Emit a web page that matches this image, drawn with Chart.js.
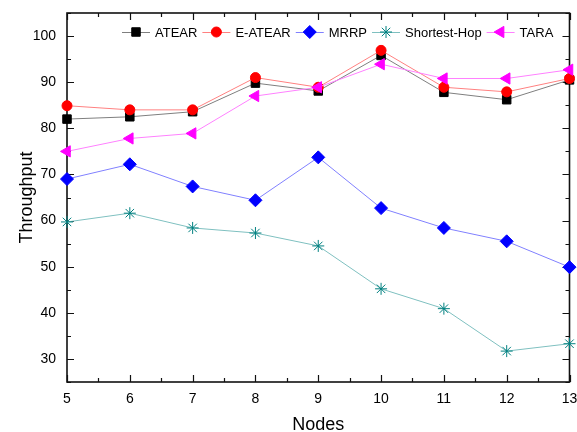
<!DOCTYPE html>
<html>
<head>
<meta charset="utf-8">
<script src="https://cdn.jsdelivr.net/npm/chart.js"></script>
<style>
  html, body { margin: 0; padding: 0; background: #fff; }
  canvas { display: block; }
</style>
</head>
<body>
<canvas id="chart" width="577" height="432"></canvas>
<script>
// values
const nodes = [5, 6, 7, 8, 9, 10, 11, 12, 13];
const atear = [82.0, 82.5, 83.6, 89.8, 88.1, 95.8, 87.8, 86.2, 90.5];
const eAtear = [84.9, 84.0, 84.0, 91.0, 88.9, 96.9, 88.9, 87.9, 90.8];
const mrrp = [69.0, 72.2, 67.4, 64.4, 73.7, 62.7, 58.4, 55.5, 49.9];
const shortestHop = [59.7, 61.6, 58.4, 57.3, 54.5, 45.2, 40.9, 31.7, 33.3];
const tara = [75.0, 77.8, 78.9, 87.0, 88.9, 93.9, 90.8, 90.8, 92.7];
const xTicks = [5, 6, 7, 8, 9, 10, 11, 12, 13];
const yTicks = [30, 40, 50, 60, 70, 80, 90, 100];

const FONT = "'Liberation Sans', Arial, sans-serif";
Chart.defaults.font.family = FONT;
Chart.defaults.color = '#000';

const toPts = arr => nodes.map((n, i) => ({ x: n, y: arr[i] }));

const series = [
    { label: 'ATEAR', data: atear, line: '#7f7f7f', mark: '#000000', style: 'rect', r: 6, rot: 0 },
    { label: 'E-ATEAR', data: eAtear, line: '#ff8080', mark: '#ff0000', style: 'circle', r: 5, rot: 0 },
    { label: 'MRRP', data: mrrp, line: '#8080ff', mark: '#0000ff', style: 'rectRot', r: 6.5, rot: 0 },
    { label: 'Shortest-Hop', data: shortestHop, line: '#7fc0c0', mark: '#008080', style: 'star', r: 6, rot: 0 },
    { label: 'TARA', data: tara, line: '#ff80ff', mark: '#ff00ff', style: 'triangle', r: 6.5, rot: -90 }
];

// box with inward ticks on all four sides
const framePlugin = {
    id: 'frame',
    beforeDatasetsDraw(chart) {
        const { ctx, chartArea: a, scales: { x, y } } = chart;
        ctx.save();
        ctx.strokeStyle = '#111';
        ctx.lineWidth = 1.6;
        ctx.strokeRect(a.left, a.top, a.right - a.left, a.bottom - a.top);
        ctx.lineWidth = 1.2;
        ctx.beginPath();
        for (let v = x.min; v <= x.max + 1e-6; v += 0.5) {
            const px = Math.round(x.getPixelForValue(v)) + 0.5;
            const len = Number.isInteger(v) ? 7 : 4;
            ctx.moveTo(px, a.bottom); ctx.lineTo(px, a.bottom - len);
            ctx.moveTo(px, a.top); ctx.lineTo(px, a.top + len);
        }
        for (let v = 25; v <= y.max + 1e-6; v += 5) {
            const py = Math.round(y.getPixelForValue(v)) + 0.5;
            const len = v % 10 === 0 ? 7 : 4;
            ctx.moveTo(a.left, py); ctx.lineTo(a.left + len, py);
            ctx.moveTo(a.right, py); ctx.lineTo(a.right - len, py);
        }
        ctx.stroke();
        ctx.restore();
    }
};

// legend in one row inside the plot, line + marker + text
const legendPlugin = {
    id: 'lineLegend',
    afterDraw(chart) {
        const ctx = chart.ctx;
        let lx = 122;
        const ly = 32;
        ctx.save();
        ctx.font = '13px ' + FONT;
        ctx.textBaseline = 'middle';
        ctx.textAlign = 'left';
        series.forEach(s => {
            ctx.strokeStyle = s.line;
            ctx.lineWidth = 1;
            ctx.beginPath();
            ctx.moveTo(lx, ly + 0.5);
            ctx.lineTo(lx + 28, ly + 0.5);
            ctx.stroke();
            ctx.fillStyle = s.mark;
            ctx.strokeStyle = s.mark;
            Chart.helpers.drawPoint(ctx, { pointStyle: s.style, radius: s.r, rotation: s.rot, borderWidth: 1 }, lx + 14, ly);
            ctx.fillStyle = '#000';
            ctx.fillText(s.label, lx + 33, ly + 1);
            lx += 33 + ctx.measureText(s.label).width + 5;
        });
        ctx.restore();
    }
};

new Chart(document.getElementById('chart'), {
    type: 'line',
    data: {
        datasets: series.map((s, i) => ({
            label: s.label,
            data: toPts(s.data),
            borderColor: s.line,
            borderWidth: 1,
            backgroundColor: s.mark,
            pointStyle: s.style,
            pointRadius: s.r,
            pointRotation: s.rot,
            pointBackgroundColor: s.mark,
            pointBorderColor: s.mark,
            pointBorderWidth: 1,
            tension: 0,
            clip: false,
            order: series.length - i
        }))
    },
    options: {
        responsive: false,
        animation: false,
        layout: { padding: { left: 0, right: 7, top: 13, bottom: 0 } },
        plugins: { legend: { display: false }, tooltip: { enabled: false } },
        scales: {
            x: {
                type: 'linear',
                min: 5,
                max: 13,
                grid: { display: false, drawTicks: false },
                border: { display: false },
                ticks: { font: { size: 14 }, padding: 9, maxRotation: 0 },
                afterBuildTicks: s => { s.ticks = xTicks.map(v => ({ value: v })); },
                afterFit: s => { s.height = 50; s.paddingLeft = 0; s.paddingRight = 0; },
                title: { display: true, text: 'Nodes', font: { size: 18 }, padding: { top: 0, bottom: -4 } }
            },
            y: {
                min: 25,
                max: 105,
                grid: { display: false, drawTicks: false },
                border: { display: false },
                ticks: { font: { size: 14 }, padding: 11 },
                afterBuildTicks: s => { s.ticks = yTicks.map(v => ({ value: v })); },
                afterFit: s => { s.width = 67; s.paddingTop = 0; s.paddingBottom = 0; },
                title: { display: true, text: 'Throughput', font: { size: 18 }, padding: { top: 16, bottom: 0 } }
            }
        }
    },
    plugins: [framePlugin, legendPlugin]
});
</script>
</body>
</html>
